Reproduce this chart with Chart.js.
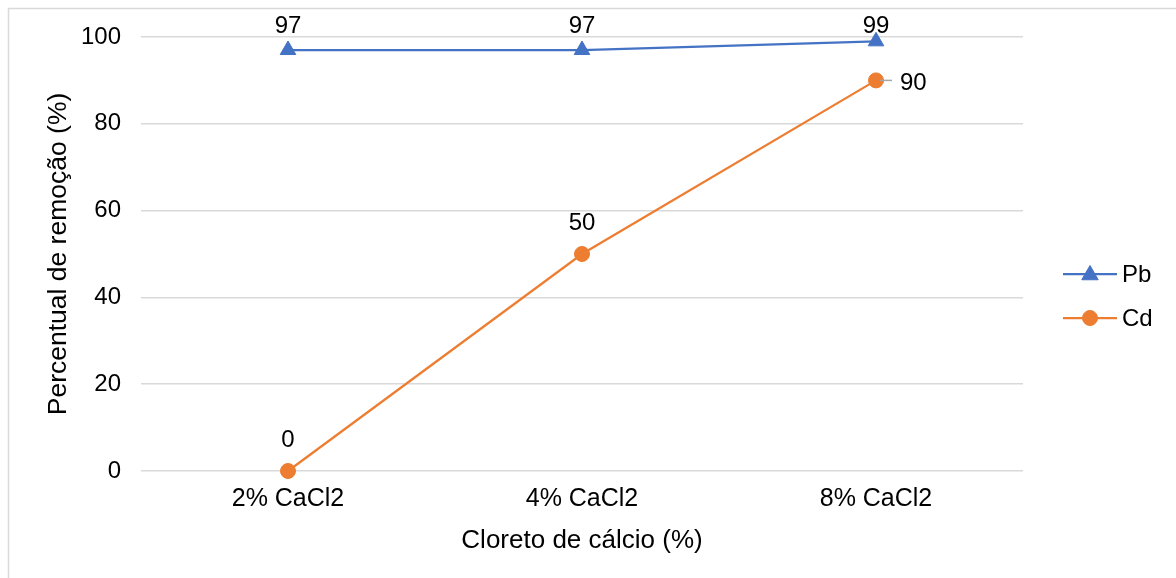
<!DOCTYPE html>
<html>
<head>
<meta charset="utf-8">
<script src="https://cdn.jsdelivr.net/npm/chart.js@4/dist/chart.umd.min.js"></script>
<style>
  html, body { margin: 0; padding: 0; background: #fff; }
  #wrap { width: 1176px; height: 578px; }
</style>
</head>
<body>
<div id="wrap"><canvas id="c" width="1176" height="578"></canvas></div>
<script>
// Removal percentage by calcium chloride concentration
const categories = ['2% CaCl2', '4% CaCl2', '8% CaCl2'];
const pbValues = [97, 97, 99];
const cdValues = [0, 50, 90];
const yTicks = [0, 20, 40, 60, 80, 100];

const FONT = '"Liberation Sans", Arial, sans-serif';
const BLUE = '#4472C4';
const ORANGE = '#ED7D31';
const GRID = '#d9d9d9';
const TEXT = '#000000';

const LEFT = 141, RIGHT = 1023, TOP = 37, BOTTOM = 471;
const W = 1176, H = 578;
const PAD_L = 39, PAD_B = 18;
const LABEL_MIN_Y = 26; // labels stay inside the chart frame

// Outer frame of the chart
const framePlugin = {
  id: 'frame',
  beforeDraw(chart) {
    const ctx = chart.ctx;
    ctx.save();
    ctx.fillStyle = '#fff';
    ctx.fillRect(0, 0, W, H);
    ctx.strokeStyle = GRID;
    ctx.lineWidth = 1.5;
    ctx.strokeRect(8.5, 8.5, W + 20, H + 20);
    ctx.restore();
  }
};

// Value labels beside each point
const labelPlugin = {
  id: 'valueLabels',
  afterDatasetsDraw(chart) {
    const ctx = chart.ctx;
    ctx.save();
    ctx.font = '24px ' + FONT;
    ctx.fillStyle = TEXT;
    ctx.textBaseline = 'middle';
    chart.data.datasets.forEach((ds, di) => {
      const meta = chart.getDatasetMeta(di);
      meta.data.forEach((pt, i) => {
        const v = ds.data[i];
        const place = ds.labelPlace ? ds.labelPlace[i] : 'above';
        if (place === 'right') {
          ctx.strokeStyle = '#a6a6a6';
          ctx.lineWidth = 1.5;
          ctx.beginPath();
          ctx.moveTo(pt.x + 4, pt.y);
          ctx.lineTo(pt.x + 16, pt.y);
          ctx.stroke();
          ctx.textAlign = 'left';
          ctx.fillText(String(v), pt.x + 24, pt.y + 3);
        } else {
          ctx.textAlign = 'center';
          const y = Math.max(LABEL_MIN_Y, pt.y - ds.labelOffset);
          ctx.fillText(String(v), pt.x, y);
        }
      });
    });
    ctx.restore();
  }
};

// Legend on the right: line sample with marker, then series name
const legendPlugin = {
  id: 'sideLegend',
  afterDraw(chart) {
    const ctx = chart.ctx;
    const rows = [274, 318];
    ctx.save();
    chart.data.datasets.forEach((ds, di) => {
      const y = rows[di];
      ctx.strokeStyle = ds.borderColor;
      ctx.lineWidth = 2.25;
      ctx.beginPath();
      ctx.moveTo(1063, y);
      ctx.lineTo(1117, y);
      ctx.stroke();
      ctx.fillStyle = ds.backgroundColor;
      ctx.strokeStyle = ds.borderColor;
      ctx.lineWidth = 1;
      Chart.helpers.drawPoint(ctx, {
        pointStyle: ds.pointStyle, radius: ds.pointStyle === 'triangle' ? 9.5 : 7.5,
        rotation: 0, borderWidth: 1
      }, 1090, ds.pointStyle === 'triangle' ? y + 1 : y);
      ctx.font = '24px ' + FONT;
      ctx.fillStyle = TEXT;
      ctx.textAlign = 'left';
      ctx.textBaseline = 'middle';
      ctx.fillText(ds.label, 1122, y + 1);
    });
    ctx.restore();
  }
};

new Chart(document.getElementById('c'), {
  type: 'line',
  data: {
    labels: categories,
    datasets: [
      {
        label: 'Pb', data: pbValues,
        borderColor: BLUE, backgroundColor: BLUE,
        borderWidth: 2.25, pointStyle: 'triangle', pointRadius: 9,
        pointBorderWidth: 1, clip: false,
        labelOffset: 24, labelPlace: ['above', 'above', 'above']
      },
      {
        label: 'Cd', data: cdValues,
        borderColor: ORANGE, backgroundColor: ORANGE,
        borderWidth: 2.25, pointStyle: 'circle', pointRadius: 7.5,
        pointBorderWidth: 1, clip: false,
        labelOffset: 31, labelPlace: ['above', 'above', 'right']
      }
    ]
  },
  options: {
    responsive: false,
    animation: false,
    layout: { padding: { left: PAD_L, right: W - RIGHT, top: TOP, bottom: PAD_B } },
    plugins: { legend: { display: false }, tooltip: { enabled: false } },
    scales: {
      x: {
        offset: true,
        grid: { display: false, drawTicks: false },
        border: { display: false },
        ticks: { color: TEXT, font: { family: FONT, size: 25 }, padding: 13, maxRotation: 0 },
        title: { display: true, text: 'Cloreto de cálcio (%)', color: TEXT,
                 font: { family: FONT, size: 26 }, padding: { top: 4, bottom: 4 } },
        afterFit(scale) { scale.height = H - PAD_B - BOTTOM; }
      },
      y: {
        min: 0, max: 100,
        afterBuildTicks(scale) { scale.ticks = yTicks.map(v => ({ value: v })); },
        grid: { color: GRID, lineWidth: 1.5, drawTicks: false },
        border: { display: false },
        ticks: { color: TEXT, font: { family: FONT, size: 24 }, padding: 20 },
        title: { display: true, text: 'Percentual de remoção (%)', color: TEXT,
                 font: { family: FONT, size: 26.5 }, padding: { top: 4, bottom: 4 } },
        afterFit(scale) { scale.width = LEFT - PAD_L; }
      }
    }
  },
  plugins: [framePlugin, labelPlugin, legendPlugin]
});
</script>
</body>
</html>
